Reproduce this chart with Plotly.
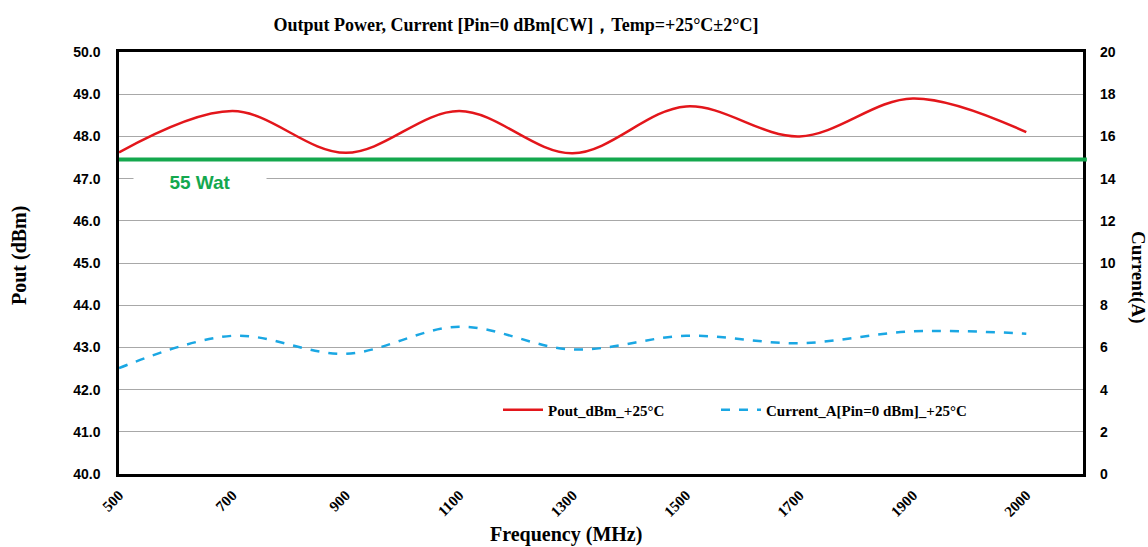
import plotly.graph_objects as go

freq_labels = ["500", "700", "900", "1100", "1300", "1500", "1700", "1900", "2000"]
pout_dbm = [47.62, 48.6, 47.61, 48.6, 47.6, 48.71, 48.0, 48.9, 48.1]
current_a = [5.02, 6.55, 5.7, 6.98, 5.9, 6.55, 6.2, 6.76, 6.65]
ref_level_dbm = 47.45
left_ticks = [40.0, 41.0, 42.0, 43.0, 44.0, 45.0, 46.0, 47.0, 48.0, 49.0, 50.0]
right_ticks = [0, 2, 4, 6, 8, 10, 12, 14, 16, 18, 20]

serif = "Liberation Serif, Times New Roman, serif"
sans = "Liberation Sans, Arial, sans-serif"

fig = go.Figure()
fig.add_trace(go.Scatter(
    x=freq_labels, y=pout_dbm, mode="lines", name="Pout_dBm_+25°C",
    line=dict(color="#E3161B", width=2.5, shape="spline", smoothing=1.0),
    yaxis="y", legend="legend"))
fig.add_trace(go.Scatter(
    x=freq_labels, y=current_a, mode="lines", name="Current_A[Pin=0 dBm]_+25°C",
    line=dict(color="#1AA7E3", width=2.5, dash="dash", shape="spline", smoothing=1.0),
    yaxis="y2", legend="legend2"))

fig.add_shape(type="line", xref="paper", yref="y", x0=0, x1=1.004,
              y0=ref_level_dbm, y1=ref_level_dbm,
              line=dict(color="#14A84E", width=4), layer="above")

legend_font = dict(family=serif, size=15, color="black", weight="bold")
fig.update_layout(
    width=1148, height=547,
    margin=dict(l=119, r=65, t=52, b=73),
    paper_bgcolor="white", plot_bgcolor="white",
    showlegend=True,
    legend=dict(orientation="h", x=(498 - 119)/964, y=(474 - 410)/422,
                xanchor="left", yanchor="middle",
                bgcolor="rgba(0,0,0,0)", font=legend_font, itemwidth=40),
    legend2=dict(orientation="h", x=(716 - 119)/964, y=(474 - 410)/422,
                 xanchor="left", yanchor="middle",
                 bgcolor="rgba(0,0,0,0)", font=legend_font, itemwidth=40),
    xaxis=dict(type="category", range=[0, 8.5], showgrid=False,
               tickangle=-45, tickfont=dict(family=serif, size=15, color="black", weight="bold"),
               showline=True, linecolor="black", linewidth=2.5, mirror=True,
               ticks="", ticklabelstandoff=4),
    yaxis=dict(range=[40, 50], tickvals=left_ticks, tickformat=".1f",
               showgrid=True, gridcolor="#A8A8A8", gridwidth=1,
               tickfont=dict(family=sans, size=14, color="black", weight="bold"),
               showline=True, linecolor="black", linewidth=2.5, mirror=True,
               ticks="", ticklabelstandoff=13, zeroline=False),
    yaxis2=dict(range=[0, 20], tickvals=right_ticks, overlaying="y", side="right",
                showgrid=False, zeroline=False,
                tickfont=dict(family=sans, size=14, color="black", weight="bold"),
                ticks="", ticklabelstandoff=16, showline=False),
    title=dict(text="Output Power, Current [Pin=0 dBm[CW]，Temp=+25°C±2°C]",
               x=516/1148, xanchor="center", y=1 - 25/547, yanchor="middle",
               font=dict(family=serif, size=18, color="black", weight="bold")),
)

fig.add_annotation(text="Pout (dBm)", xref="paper", yref="paper",
                   x=-100/964, y=(474 - 256)/422, textangle=-90, showarrow=False,
                   xanchor="center", yanchor="middle",
                   font=dict(family=serif, size=20, color="black", weight="bold"))
fig.add_annotation(text="Current(A)", xref="paper", yref="paper",
                   x=(1138 - 119)/964, y=(474 - 277)/422, textangle=90, showarrow=False,
                   xanchor="center", yanchor="middle",
                   font=dict(family=serif, size=19, color="black", weight="bold"))
fig.add_annotation(text="Frequency (MHz)", xref="paper", yref="paper",
                   x=(566 - 119)/964, y=-60/422, showarrow=False,
                   xanchor="center", yanchor="middle",
                   font=dict(family=serif, size=20, color="black", weight="bold"))
fig.add_annotation(text="55 Wat", xref="paper", yref="y",
                   x=(200 - 119)/964, y=46.9, showarrow=False,
                   xanchor="center", yanchor="middle", width=130, bgcolor="white",
                   font=dict(family=sans, size=19, color="#14A84E", weight="bold"))

fig.write_html("out.html", config={"displayModeBar": False},
               post_script="document.body.style.margin='0';")
